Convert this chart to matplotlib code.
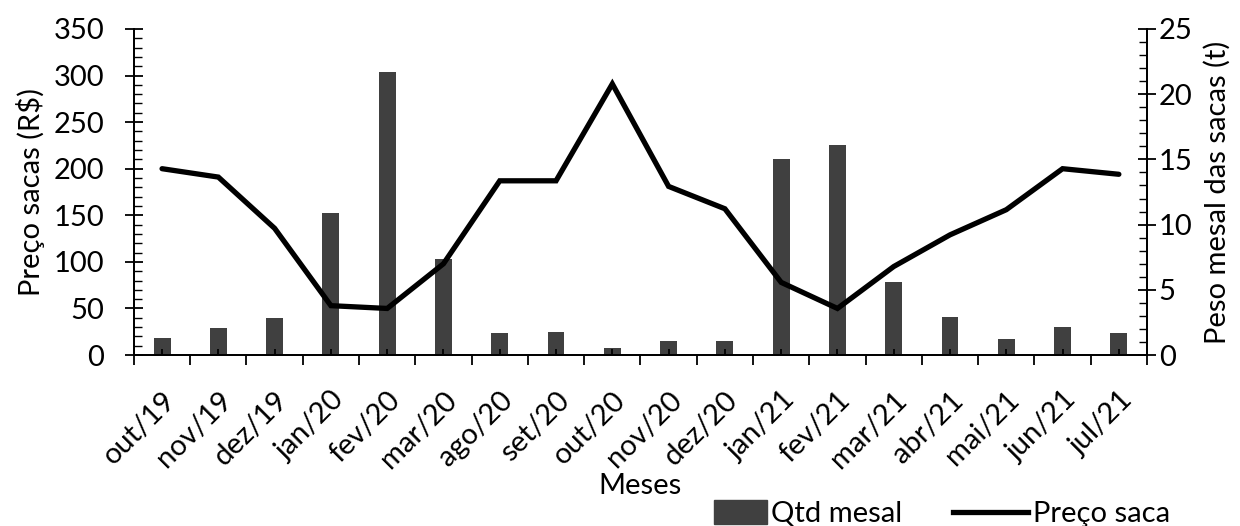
import matplotlib
matplotlib.use("Agg")
import matplotlib.pyplot as plt
import numpy as np
from matplotlib.ticker import MultipleLocator
from matplotlib.patches import Patch
from matplotlib.lines import Line2D

plt.rcParams['font.family'] = ['Lato', 'DejaVu Sans']

meses = ["out/19", "nov/19", "dez/19", "jan/20", "fev/20", "mar/20", "ago/20", "set/20",
         "out/20", "nov/20", "dez/20", "jan/21", "fev/21", "mar/21", "abr/21", "mai/21",
         "jun/21", "jul/21"]
preco_saca = [200, 191, 136, 53, 50, 98, 187, 187, 291, 181, 157, 78, 50, 95, 129, 156, 200, 194]
qtd_mesal = [1.33, 2.04, 2.86, 10.9, 21.7, 7.4, 1.71, 1.74, 0.51, 1.1, 1.1, 15.0, 16.1, 5.62,
             2.88, 1.2, 2.17, 1.66]

fs = 21
bar_color = "#404040"
fig = plt.figure(figsize=(12.4, 5.26), dpi=100)
ax = fig.add_axes([0.108, 0.325, 0.817, 0.620])
ax2 = ax.twinx()

x = np.arange(len(meses))
ax2.bar(x, qtd_mesal, width=0.3, color=bar_color, zorder=1)
ax.plot(x, preco_saca, color="black", lw=3.8, solid_capstyle="round", solid_joinstyle="miter", zorder=5)
ax.set_zorder(ax2.get_zorder() + 1)
ax.patch.set_visible(False)

ax.set_xlim(-0.5, len(meses) - 0.5)
ax.set_ylim(0, 350)
ax2.set_ylim(0, 25)

for a in (ax, ax2):
    a.spines["top"].set_visible(False)
    a.spines["left"].set_linewidth(1.3)
    a.spines["right"].set_linewidth(1.3)
    a.spines["bottom"].set_linewidth(1.3)

ax.yaxis.set_major_locator(MultipleLocator(50))
ax.yaxis.set_minor_locator(MultipleLocator(10))
ax.tick_params(axis="y", which="major", direction="inout", length=13, width=1.3, labelsize=fs, pad=15)
ax.tick_params(axis="y", which="minor", direction="in", length=6, width=1.0)
ax2.yaxis.set_major_locator(MultipleLocator(5))
ax2.yaxis.set_minor_locator(MultipleLocator(1))
ax2.tick_params(axis="y", which="major", direction="inout", length=13, width=1.3, labelsize=fs, pad=2)
ax2.tick_params(axis="y", which="minor", direction="in", length=6, width=1.0)

# category boundary ticks (outward) and center ticks (inward)
ax.set_xticks(np.arange(-0.5, len(meses), 1.0))
ax.set_xticklabels([])
ax.tick_params(axis="x", which="major", direction="out", length=7, width=1.3)
ax.set_xticks(x, minor=True)
ax.set_xticklabels(meses, minor=True, rotation=45, ha="right", rotation_mode="anchor", fontsize=fs)
ax.tick_params(axis="x", which="minor", direction="in", length=4.5, width=1.3, pad=23)

ax.set_ylabel("Preço sacas (R$)", fontsize=fs, labelpad=6)
ax2.set_ylabel("Peso mesal das sacas (t)", fontsize=fs, labelpad=8)
ax.set_xlabel("Meses", fontsize=fs, labelpad=0)

leg1 = fig.legend(handles=[Patch(color=bar_color, label="Qtd mesal")],
                  loc="lower left", bbox_to_anchor=(0.555, -0.052), frameon=False,
                  fontsize=fs, handlelength=1.8, handleheight=0.9, handletextpad=0.15)
leg2 = fig.legend(handles=[Line2D([0], [0], color="black", lw=3.8, label="Preço saca")],
                  loc="lower left", bbox_to_anchor=(0.747, -0.052), frameon=False,
                  fontsize=fs, handlelength=2.6, handletextpad=0.15)

fig.savefig("out.png", dpi=100)
